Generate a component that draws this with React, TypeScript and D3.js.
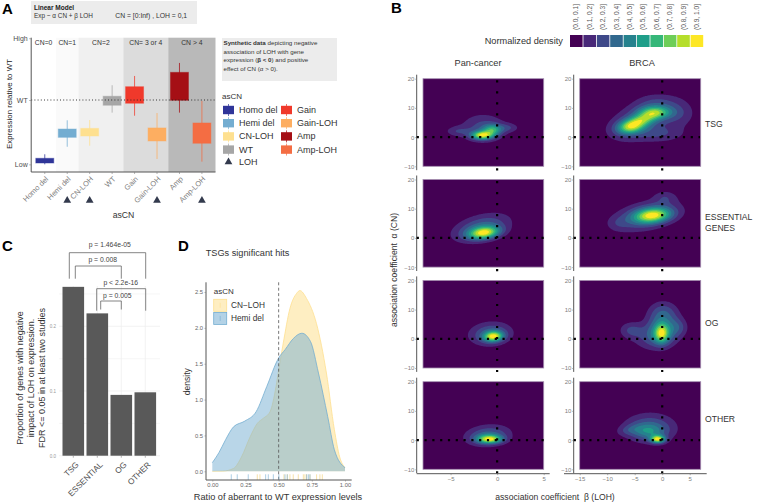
import * as React from 'react';
import * as d3 from 'd3';

const FONT = '"Liberation Sans", Arial, sans-serif';

// ---- panel A
const asCN = ['Homo del', 'Hemi del', 'CN-LOH', 'WT', 'Gain', 'Gain-LOH', 'Amp', 'Amp-LOH'];
const asCNColors = ['#2f3599', '#74add1', '#fee090', '#a6a6a6', '#f0392b', '#fdae61', '#a50f15', '#f46d43'];
const boxLow = [6.7, 25.8, 26.8, 49.7, 51.2, 23.1, 53.4, 21.4];
const boxHigh = [10.2, 32, 32.5, 56.4, 63.5, 32.8, 74.2, 36.5];
const whiskerLow = [5.7, 18.8, 19.6, 44.2, 41.9, 9.7, 44.2, 7.7];
const whiskerHigh = [13.2, 38.5, 38.7, 64.6, 71.5, 43.9, 81.2, 52.9];
const loh = ['Hemi del', 'CN-LOH', 'Gain-LOH', 'Amp-LOH'];
const exprTicks = [5.7, 53.6, 99.6];
const exprTickLabels = ['Low', 'WT', 'High'];
const cnLabels = ['CN=0', 'CN=1', 'CN=2', 'CN= 3 or 4', 'CN > 4'];
const cnFirst = ['Homo del', 'Hemi del', 'CN-LOH', 'Gain', 'Amp'];
const cnLast = ['Homo del', 'Hemi del', 'WT', 'Gain-LOH', 'Amp-LOH'];
const cnFills = ['#ffffff', '#fafafa', '#f0f0f0', '#dcdcdc', '#b9b9b9'];

// ---- panel B, kernels: [beta, alpha, sdBeta, sdAlpha, rho, weight]
type Kernel = number[];
const binLabels = ['(0.0, 0.1]', '(0.1, 0.2]', '(0.2, 0.3]', '(0.3, 0.4]', '(0.4, 0.5]', '(0.5, 0.6]', '(0.6, 0.7]', '(0.7, 0.8]', '(0.8, 0.9]', '(0.9, 1.0]'];
const facetRows = ['TSG', 'ESSENTIAL GENES', 'OG', 'OTHER'];
const panTSG: Kernel[] = [[-1.6, 0.6, 0.8, 1, 0, 1], [-0.5, 2.5, 0.7, 1.3, 0, 0.6], [-1.5, 3.2, 1.7, 3.4, 0, 0.3], [-4.3, 2, 0.9, 1.2, 0, 0.2], [1.2, 3.2, 0.8, 1.1, 0, 0.2]];
const panEssential: Kernel[] = [[-1.4, 1.7, 1.15, 1.5, 0.25, 1], [-1.7, 3.5, 2.1, 3.3, 0.4, 0.45]];
const panOG: Kernel[] = [[-0.4, 0.8, 0.7, 1.2, 0.1, 1], [-0.7, 1.7, 1.6, 2.8, 0.1, 0.45]];
const panOther: Kernel[] = [[-0.8, 0.3, 0.9, 1, 0, 1], [-1, 1.6, 1.7, 2.5, 0.15, 0.45]];
const brcaTSG: Kernel[] = [[-5.8, 3.5, 1.7, 1.7, 0.2, 0.8], [-3.5, 6, 1.8, 1.6, 0.3, 0.55], [-1.3, 8.5, 2, 1.5, 0, 0.7], [-4, 5.5, 4, 4.8, 0.4, 0.35], [3, 8, 2.2, 3.4, 0, 0.2], [0, 1, 3, 2, 0, 0.2], [-1, 12, 2.5, 2, 0, 0.15]];
const brcaEssential: Kernel[] = [[-1.7, 7.7, 2.3, 1.8, 0.2, 1], [-3, 7.5, 4.2, 3.6, 0.4, 0.45], [0.5, 14, 1.5, 1.6, 0, 0.2], [-8, 5, 1.2, 1.6, 0, 0.1]];
const brcaOG: Kernel[] = [[-0.1, 1.8, 0.9, 2.2, 0, 0.8], [0, 3, 2, 3.4, 0, 0.6], [0.2, 9, 1.9, 2.8, 0, 0.38], [-5.7, 3, 1.5, 2, 0, 0.3], [-2, 0, 2.6, 3, 0, 0.25], [3, 4, 1.2, 2.2, 0, 0.25]];
const brcaOther: Kernel[] = [[-0.8, 0.3, 0.9, 0.9, 0, 1], [-2.2, 4.2, 3.3, 3.5, 0, 0.38], [-6, 3.5, 1.5, 1.3, 0.3, 0.15], [-2.5, 3, 2, 1.8, 0, 0.3]];
const panKernels = [panTSG, panEssential, panOG, panOther];
const brcaKernels = [brcaTSG, brcaEssential, brcaOG, brcaOther];

// ---- panel C
const geneClasses = ['TSG', 'ESSENTIAL', 'OG', 'OTHER'];
const geneProportion = [0.261, 0.22, 0.094, 0.098];
const pLabels = ['p = 1.464e-05', 'p = 0.008', 'p < 2.2e-16', 'p = 0.005'];

// ---- panel D
const hemiX = [0, 0.05, 0.1, 0.16, 0.245, 0.33, 0.41, 0.5, 0.55, 0.61, 0.675, 0.74, 0.8, 0.87, 0.92, 1];
const hemiY = [0.12, 0.26, 0.44, 0.62, 0.7, 0.83, 1.18, 1.58, 1.7, 1.85, 1.925, 1.81, 1.37, 0.76, 0.3, 0.05];
const cnLohX = [0, 0.08, 0.16, 0.22, 0.285, 0.34, 0.385, 0.435, 0.48, 0.5, 0.535, 0.585, 0.635, 0.66, 0.71, 0.785, 0.86, 0.92, 0.96, 1];
const cnLohY = [0, 0.003, 0.04, 0.2, 0.48, 0.67, 0.74, 0.83, 1.18, 1.41, 1.79, 2.27, 2.48, 2.52, 2.41, 2.06, 1.37, 0.58, 0.2, 0.05];
const hemiRug = [0.143, 0.188, 0.271, 0.402, 0.422, 0.46, 0.502, 0.548, 0.565, 0.711, 0.724, 0.736];
const cnLohRug = [0.339, 0.359, 0.54, 0.565, 0.585, 0.61, 0.648, 0.686, 0.698, 0.711, 0.736, 0.786, 0.811, 0.829];

type G = d3.Selection<SVGGElement, unknown, null, undefined>;

function label(g: G, x: number, y: number, s: string, size: number, fill = '#333', anchor = 'start', rotate = 0) {
  return g.append('text')
    .attr('transform', `translate(${x},${y}) rotate(${rotate})`)
    .attr('font-size', size)
    .attr('fill', fill)
    .attr('text-anchor', anchor)
    .style('white-space', 'pre')
    .text(s);
}

function styleAxis(a: G, size: number, fill = '#808080') {
  a.selectAll('text').attr('font-size', size).attr('font-family', FONT).attr('fill', fill);
  a.selectAll('line').attr('stroke', '#808080').attr('stroke-width', 0.6);
  a.select('.domain').attr('stroke', '#555').attr('stroke-width', 1);
}

function drawA(g: G) {
  const x = d3.scaleBand<string>().domain(asCN).range([31.2, 215.5]).paddingInner(0.2).paddingOuter(0.205);
  const y = d3.scaleLinear().domain([0, 100]).range([172, 37.7]);
  const half = x.step() / 2;
  const mid = (c: string) => (x(c) as number) + x.bandwidth() / 2;

  cnLabels.forEach((t, i) => {
    const x0 = i === 0 ? 31.2 : mid(cnFirst[i]) - half;
    const x1 = i === cnLabels.length - 1 ? 215.5 : mid(cnLast[i]) + half;
    g.append('rect').attr('x', x0).attr('y', 37.7).attr('width', x1 - x0).attr('height', 134.3).attr('fill', cnFills[i]);
    label(g, (x0 + x1) / 2, 45.3, t, 6.8, '#333', 'middle');
  });

  asCN.forEach((c, i) => {
    g.append('line').attr('x1', mid(c)).attr('x2', mid(c)).attr('y1', y(whiskerLow[i])).attr('y2', y(whiskerHigh[i]))
      .attr('stroke', asCNColors[i]).attr('stroke-width', 1).attr('opacity', 0.75);
    g.append('rect').attr('x', x(c) as number).attr('width', x.bandwidth())
      .attr('y', y(boxHigh[i])).attr('height', y(boxLow[i]) - y(boxHigh[i]))
      .attr('fill', asCNColors[i]).attr('stroke', asCNColors[i]).attr('stroke-opacity', 0.45).attr('stroke-width', 1);
  });

  g.append('line').attr('x1', 31.2).attr('x2', 215.5).attr('y1', y(53.6)).attr('y2', y(53.6))
    .attr('stroke', '#222').attr('stroke-width', 0.9).attr('stroke-dasharray', '1 2.2');

  const ay = g.append('g').attr('transform', 'translate(31.2,0)')
    .call(d3.axisLeft(y).tickValues(exprTicks).tickFormat((_, i) => exprTickLabels[i]).tickSize(2).tickPadding(1.5) as never) as unknown as G;
  styleAxis(ay, 7, '#4d4d4d');
  ay.select('.domain').attr('d', 'M0,37.7V172');

  const ax = g.append('g').attr('transform', 'translate(0,172)')
    .call(d3.axisBottom(x).tickSize(2) as never) as unknown as G;
  styleAxis(ax, 7.5);
  ax.select('.domain').attr('d', 'M31.2,0H215.5');
  ax.selectAll('text').attr('text-anchor', 'end').attr('dy', 0).attr('y', 0)
    .attr('transform', 'translate(4,7.5) rotate(-45)');

  loh.forEach(c => {
    g.append('path').attr('d', d3.symbol(d3.symbolTriangle, 26)()).attr('transform', `translate(${mid(c)},200.5)`).attr('fill', '#333a4d');
  });

  label(g, 123.5, 218, 'asCN', 8.7, '#333', 'middle');
  label(g, 12, 104, 'Expression relative to WT', 7.9, '#222', 'middle', -90);

  // model box
  g.append('rect').attr('x', 31).attr('y', 1).attr('width', 166).attr('height', 23).attr('fill', '#ececec');
  label(g, 34, 9.5, 'Linear Model', 6.5, '#222').attr('font-weight', 'bold');
  label(g, 34, 18, 'Exp ~ α CN + β LOH', 6.4, '#333');
  label(g, 115.3, 18, 'CN = [0:Inf) , LOH = 0,1', 6.8, '#333');

  g.append('rect').attr('x', 222).attr('y', 38).attr('width', 115).attr('height', 43).attr('fill', '#ececec');
  const note = label(g, 223.5, 45, '', 6.2, '#333');
  note.append('tspan').attr('font-weight', 'bold').text('Synthetic data');
  note.append('tspan').text(' depicting negative');
  label(g, 223.5, 53.5, 'association of LOH with gene', 6.2, '#333');
  const note3 = label(g, 223.5, 62, 'expression (', 6.2, '#333');
  note3.append('tspan').attr('font-weight', 'bold').text('β < 0');
  note3.append('tspan').text(') and positive');
  label(g, 223.5, 70.5, 'effect of CN (α > 0).', 6.2, '#333');

  // legend
  label(g, 222, 98.5, 'asCN', 8, '#333');
  const keys = (c: string, i: number, kx: number, ky: number) => {
    g.append('rect').attr('x', kx).attr('y', ky - 4.2).attr('width', 11).attr('height', 8.4).attr('fill', asCNColors[i]);
    g.append('line').attr('x1', kx + 5.5).attr('x2', kx + 5.5).attr('y1', ky - 6).attr('y2', ky + 6).attr('stroke', asCNColors[i]).attr('opacity', 0.7);
    label(g, kx + 16, ky + 3, c, 9, '#333');
  };
  asCN.slice(0, 4).forEach((c, i) => keys(c, i, 223, 110 + i * 13.2));
  asCN.slice(4).forEach((c, i) => keys(c, i + 4, 281, 110 + i * 13.2));
  g.append('path').attr('d', d3.symbol(d3.symbolTriangle, 26)()).attr('transform', 'translate(228.5,162)').attr('fill', '#333a4d');
  label(g, 239, 165, 'LOH', 9, '#333');
}

function drawDensity(parent: G, kernels: Kernel[], x: d3.ScaleLinear<number, number>, y: d3.ScaleLinear<number, number>) {
  const g = parent.append('g') as unknown as G;
  const nx = 150, ny = 110;
  const [x0, x1] = x.domain();
  const [y0, y1] = y.domain();
  const values = new Array(nx * ny);
  for (let j = 0; j < ny; j++) {
    const a = y1 + (j / (ny - 1)) * (y0 - y1);
    for (let i = 0; i < nx; i++) {
      const b = x0 + (i / (nx - 1)) * (x1 - x0);
      let v = 0;
      kernels.forEach(([mb, ma, sb, sa, rho, w]) => {
        const u = (b - mb) / sb, t = (a - ma) / sa;
        v += w * Math.exp(-(u * u - 2 * rho * u * t + t * t) / (2 * (1 - rho * rho)));
      });
      values[j * nx + i] = v;
    }
  }
  const peak = d3.max(values) as number;
  const levels = d3.range(1, 10).map(d => (d / 10) * peak);
  const contours = d3.contours().size([nx, ny]).thresholds(levels)(values);
  const project = d3.geoTransform({
    point(px: number, py: number) {
      this.stream.point(x(x0 + ((px - 0.5) / (nx - 1)) * (x1 - x0)), y(y1 + ((py - 0.5) / (ny - 1)) * (y0 - y1)));
    },
  });
  const path = d3.geoPath(project);
  const [r0, r1] = x.range();
  const [b0, t0] = y.range();
  g.append('rect').attr('x', r0).attr('y', t0).attr('width', r1 - r0).attr('height', b0 - t0)
    .attr('fill', '#440154').attr('stroke', '#a58fb0').attr('stroke-width', 0.8);
  g.selectAll('path.band').data(contours).join('path').attr('class', 'band')
    .attr('d', d => path(d as never))
    .attr('fill', (_, i) => d3.interpolateViridis((i + 1) / 9));
}

function drawB(g: G) {
  label(g, 484.7, 44, 'Normalized density', 9.2, '#333');
  binLabels.forEach((t, i) => {
    g.append('rect').attr('x', 570 + i * 13.4).attr('y', 35).attr('width', 12.6).attr('height', 12)
      .attr('fill', d3.interpolateViridis(i / 9));
    label(g, 576.3 + i * 13.4 + 2, 30, t, 6.6, '#555', 'start', -90);
  });
  label(g, 478, 65.5, 'Pan-cancer', 9.2, '#333', 'middle');
  label(g, 642, 65.5, 'BRCA', 9.2, '#333', 'middle');

  const columns = [
    { kernels: panKernels, range: [423, 543.7], dom: [-7.96, 5], ticks: [-5, 0, 5], axisX: 416.7, bottom: [416.7, 549.7], hEnd: 545 },
    { kernels: brcaKernels, range: [579.7, 700.7], dom: [-15, 7], ticks: [-15, -10, -5, 0, 5], axisX: 573.7, bottom: [564, 706.7], hEnd: 700 },
  ];
  const rowTops = [78.7, 179.5, 280.4, 381.7];

  columns.forEach(col => {
    const x = d3.scaleLinear().domain(col.dom).range(col.range);
    rowTops.forEach((top, r) => {
      const y = d3.scaleLinear().domain([-10, 20]).range([top + 87.6, top]);
      drawDensity(g, col.kernels[r], x, y);

      const ay = g.append('g').attr('transform', `translate(${col.axisX},0)`)
        .call(d3.axisLeft(y).tickValues([-10, 0, 10, 20]).tickSize(1.5).tickPadding(0.8) as never) as unknown as G;
      styleAxis(ay, 6);
      ay.select('.domain').attr('d', `M0,${top - 4}V${top + 91.5}`);

      g.append('line').attr('x1', col.axisX).attr('x2', col.hEnd).attr('y1', y(0)).attr('y2', y(0))
        .attr('stroke', '#000').attr('stroke-width', 2.2).attr('stroke-dasharray', '2.2 5.6');
      g.append('line').attr('x1', x(0)).attr('x2', x(0)).attr('y1', top + 1.5).attr('y2', top + 92)
        .attr('stroke', '#000').attr('stroke-width', 2.2).attr('stroke-dasharray', '2.2 8.8');
    });
    const ax = g.append('g').attr('transform', 'translate(0,473.7)')
      .call(d3.axisBottom(x).tickValues(col.ticks).tickFormat(d3.format('d')).tickSize(1.5).tickPadding(1.5) as never) as unknown as G;
    styleAxis(ax, 6);
    ax.select('.domain').attr('d', `M${col.bottom[0]},0H${col.bottom[1]}`);
  });

  label(g, 705, 127, facetRows[0], 8.6, '#333');
  label(g, 705, 219.5, 'ESSENTIAL', 8.6, '#333');
  label(g, 705, 231, 'GENES', 8.6, '#333');
  label(g, 705, 325.7, facetRows[2], 8.6, '#333');
  label(g, 705, 422, facetRows[3], 8.6, '#333');
  label(g, 555, 499.5, 'association coefficient  β (LOH)', 8.6, '#333', 'middle');
  label(g, 397, 270, 'association coefficient  α (CN)', 8.6, '#333', 'middle', -90);
}

function drawC(g: G) {
  const x = d3.scaleBand<string>().domain(geneClasses).range([61.3, 157.3]).paddingInner(0.1).paddingOuter(0.05);
  const y = d3.scaleLinear().domain([0, 0.262]).range([455.7, 286.2]);
  d3.range(0, 0.26, 0.05).forEach(v => {
    g.append('line').attr('x1', 59).attr('x2', 160).attr('y1', y(v)).attr('y2', y(v))
      .attr('stroke', '#ececec').attr('stroke-width', Math.round(v * 100) % 10 === 0 ? 0.7 : 0.4);
  });
  geneClasses.forEach(c => {
    const cx = (x(c) as number) + x.bandwidth() / 2;
    g.append('line').attr('x1', cx).attr('x2', cx).attr('y1', 286).attr('y2', 455.7).attr('stroke', '#ececec').attr('stroke-width', 0.7);
  });
  g.selectAll('rect.gene').data(geneProportion).join('rect').attr('class', 'gene')
    .attr('x', (_, i) => x(geneClasses[i]) as number).attr('width', x.bandwidth())
    .attr('y', d => y(d)).attr('height', d => y(0) - y(d)).attr('fill', '#595959');

  const ay = g.append('g').attr('transform', 'translate(59,0)')
    .call(d3.axisLeft(y).tickValues([0, 0.1, 0.2]).tickFormat(d3.format('.1f')).tickSize(0).tickPadding(3) as never) as unknown as G;
  styleAxis(ay, 4.5, '#999');
  ay.select('.domain').remove();

  const ax = g.append('g').attr('transform', 'translate(0,455.7)')
    .call(d3.axisBottom(x).tickSize(2) as never) as unknown as G;
  styleAxis(ax, 8.2, '#4d4d4d');
  ax.select('.domain').remove();
  ax.selectAll('text').attr('text-anchor', 'end').attr('dy', 0).attr('y', 0)
    .attr('transform', 'translate(6,9.5) rotate(-45)');

  const brackets = [
    { x1: 69.3, x2: 145.7, top: 252.7, down: 278.7, lx: 109.7, ly: 247 },
    { x1: 75.3, x2: 121.3, top: 266, down: 278.7, lx: 102.7, ly: 261.8 },
    { x1: 96.7, x2: 145.7, top: 288.7, down: 310.7, lx: 120.7, ly: 285.4 },
    { x1: 100.7, x2: 121.3, top: 301, down: 309.5, lx: 117.3, ly: 297.8 },
  ];
  brackets.forEach((b, i) => {
    g.append('path').attr('d', d3.line()([[b.x1, b.down], [b.x1, b.top], [b.x2, b.top], [b.x2, b.down]]))
      .attr('fill', 'none').attr('stroke', '#666').attr('stroke-width', 0.8);
    label(g, b.lx, b.ly, pLabels[i], 6.8, '#444', 'middle');
  });

  label(g, 23, 378, 'Proportion of genes with negative', 9, '#333', 'middle', -90);
  label(g, 34, 378, 'impact of LOH on expression.', 9, '#333', 'middle', -90);
  label(g, 45, 378, 'FDR <= 0.05 in at least two studies', 9, '#333', 'middle', -90);
}

function drawD(g: G) {
  const x = d3.scaleLinear().domain([0, 1]).range([212.3, 345]);
  const y = d3.scaleLinear().domain([0, 2.5]).range([471.3, 292]);
  const area = (xs: number[], ys: number[]) => d3.area<number>()
    .x(d => x(d)).y0(y(0)).y1((_, i) => y(ys[i])).curve(d3.curveMonotoneX)(xs);

  g.append('path').attr('d', area(cnLohX, cnLohY)).attr('fill', '#fee090').attr('fill-opacity', 0.55);
  g.append('path').attr('d', d3.line<number>().x(d => x(d)).y((_, i) => y(cnLohY[i])).curve(d3.curveMonotoneX)(cnLohX))
    .attr('fill', 'none').attr('stroke', '#fee090').attr('stroke-width', 0.8);
  g.append('path').attr('d', area(hemiX, hemiY)).attr('fill', '#74add1').attr('fill-opacity', 0.5);
  g.append('path').attr('d', d3.line<number>().x(d => x(d)).y((_, i) => y(hemiY[i])).curve(d3.curveMonotoneX)(hemiX))
    .attr('fill', 'none').attr('stroke', '#74add1').attr('stroke-width', 0.8);

  g.append('line').attr('x1', x(0.5)).attr('x2', x(0.5)).attr('y1', 282.3).attr('y2', 480)
    .attr('stroke', '#555').attr('stroke-width', 0.8).attr('stroke-dasharray', '3 2.4');

  const rug = (vals: number[], color: string) => vals.forEach(v => {
    g.append('line').attr('x1', x(v)).attr('x2', x(v)).attr('y1', 474.3).attr('y2', 480).attr('stroke', color).attr('stroke-width', 0.6);
  });
  rug(cnLohRug, '#f2cf6e');
  rug(hemiRug, '#74add1');

  const ay = g.append('g').attr('transform', 'translate(206,0)')
    .call(d3.axisLeft(y).tickValues([0, 0.5, 1, 1.5, 2, 2.5]).tickFormat(d3.format('.1f')).tickSize(1.5).tickPadding(1.5) as never) as unknown as G;
  styleAxis(ay, 5.8, '#666');
  ay.select('.domain').attr('d', 'M0,282.3V480');

  const ax = g.append('g').attr('transform', 'translate(0,480)')
    .call(d3.axisBottom(x).tickValues([0, 0.25, 0.5, 0.75, 1]).tickFormat(d3.format('.2f')).tickSize(1.5).tickPadding(1.5) as never) as unknown as G;
  styleAxis(ax, 5.8, '#666');
  ax.select('.domain').attr('d', 'M206,0H351.7');

  label(g, 205.7, 256, 'TSGs significant hits', 9.2, '#333');
  label(g, 213.7, 293.5, 'asCN', 8, '#333');
  [['CN−LOH', '#fee090', 299.3], ['Hemi del', '#74add1', 312.4]].forEach(([t, c, ky]) => {
    const top = ky as number;
    g.append('rect').attr('x', 213.7).attr('y', top).attr('width', 13).attr('height', 12)
      .attr('fill', c as string).attr('fill-opacity', 0.55).attr('stroke', c as string).attr('stroke-width', 0.8);
    g.append('line').attr('x1', 220.2).attr('x2', 220.2).attr('y1', top + 3.5).attr('y2', top + 8.5).attr('stroke', c as string).attr('stroke-width', 0.6);
    label(g, 231, top + 8.8, t as string, 8.3, '#333');
  });
  label(g, 278, 499.5, 'Ratio of aberrant to WT expression levels', 9.2, '#333', 'middle');
  label(g, 190, 381.7, 'density', 8.5, '#333', 'middle', -90);
}

export default function App() {
  const svgRef = React.useRef<SVGSVGElement>(null);

  React.useEffect(() => {
    const svg = d3.select(svgRef.current as SVGSVGElement);
    svg.selectAll('*').remove();
    const g = svg.append('g').attr('font-family', FONT) as unknown as G;
    drawA(g);
    drawB(g);
    drawC(g);
    drawD(g);
    label(g, 2, 14, 'A', 15, '#000').attr('font-weight', 'bold');
    label(g, 391, 13, 'B', 15, '#000').attr('font-weight', 'bold');
    label(g, 2, 251, 'C', 15, '#000').attr('font-weight', 'bold');
    label(g, 178, 251, 'D', 15, '#000').attr('font-weight', 'bold');
  }, []);

  return (
    <svg
      ref={svgRef}
      width={757}
      height={503}
      style={{ position: 'absolute', left: 0, top: 0, background: '#fff' }}
    />
  );
}
